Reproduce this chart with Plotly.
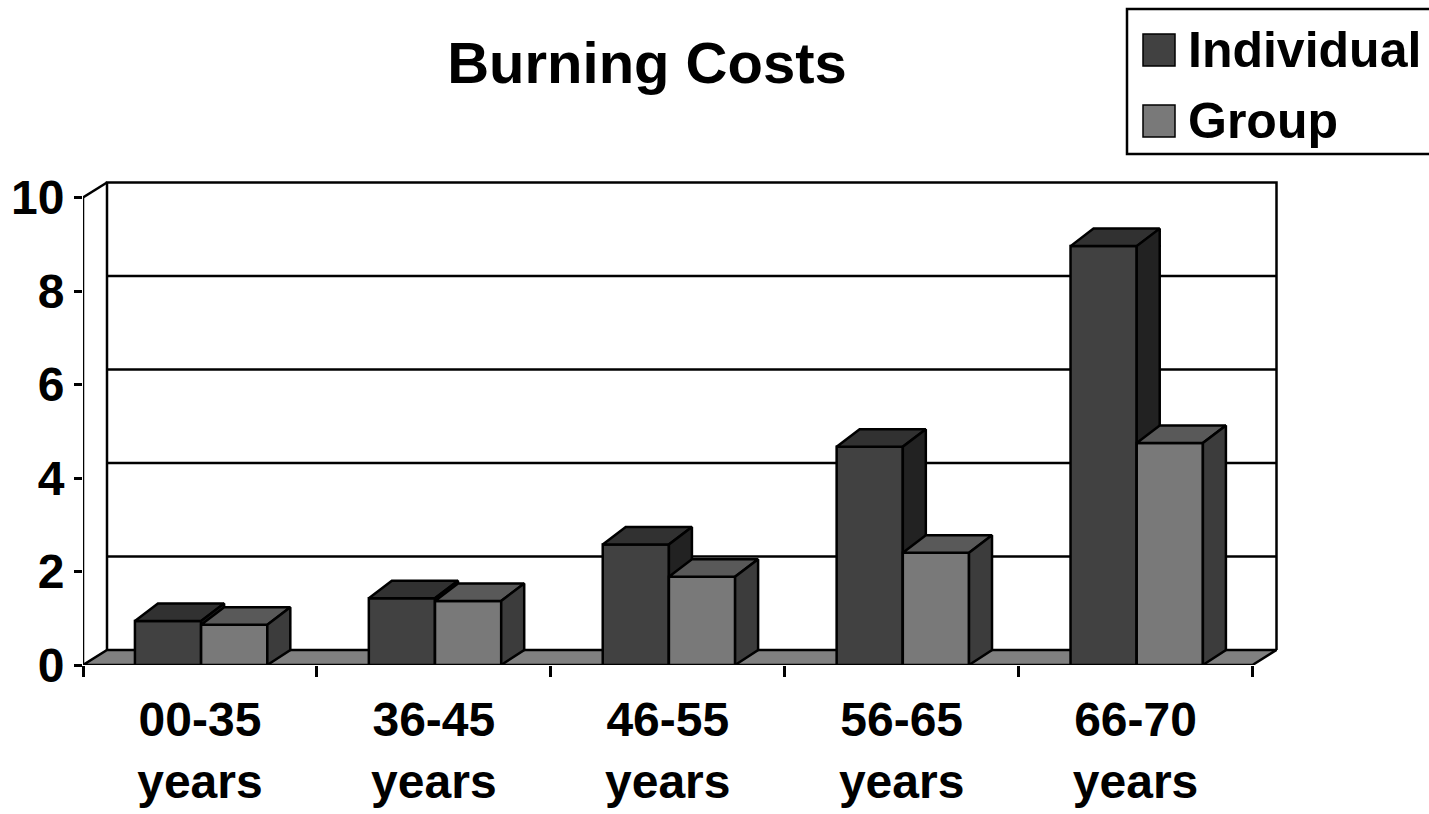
import plotly.graph_objects as go

# ---- data ----
categories = ["00-35<br>years", "36-45<br>years", "46-55<br>years", "56-65<br>years", "66-70<br>years"]
individual = [0.94, 1.43, 2.58, 4.67, 8.96]
group = [0.86, 1.37, 1.89, 2.40, 4.75]
series_names = ["Individual", "Group"]
y_ticks = [0, 2, 4, 6, 8, 10]
y_max = 10

# ---- page geometry ----
W, H = 1429, 814
ML, MR, MT, MB = 83, 149, 180, 149
PX_X = 233.9   # pixels per category
PX_Y = 46.75   # pixels per value unit
plot_w = W - ML - MR
plot_h = H - MT - MB
n = len(categories)
x_lo, x_hi = -0.5, n - 0.5
x_range = [x_lo, x_lo + plot_w / PX_X]
y_range = [0, plot_h / PX_Y]

# oblique depth of walls/floor and of the columns
WALL_DX, WALL_DY = 24 / PX_X, 15 / PX_Y
BAR_DX, BAR_DYT, BAR_DYB = 23 / PX_X, 17.5 / PX_Y, 15 / PX_Y
BAR_W = 0.283
BAR_SHIFT = 0.005

FONT = "Liberation Sans, Arial, sans-serif"
LW = 2.5

# face colours: (front, top, side)
face_colors = {
    "Individual": ("#414141", "#313131", "#222222"),
    "Group": ("#797979", "#595959", "#3c3c3c"),
}
floor_color = "#808080"

fig = go.Figure()


def poly_trace(xs, ys, fill, name=None, width=LW):
    return go.Scatter(
        x=xs, y=ys, mode="lines", fill="toself" if fill else None,
        fillcolor=fill, line=dict(color="black", width=width),
        hoverinfo="skip", showlegend=False, cliponaxis=False, name=name,
    )


def line_trace(xs, ys):
    return go.Scatter(x=xs, y=ys, mode="lines", line=dict(color="black", width=LW),
                      hoverinfo="skip", showlegend=False, cliponaxis=False)


# back wall gridlines and outline
gx, gy = [], []
for v in y_ticks[1:-1]:
    gx += [x_lo + WALL_DX, x_hi + WALL_DX, None]
    gy += [v + WALL_DY, v + WALL_DY, None]
fig.add_trace(line_trace(gx, gy))
fig.add_trace(line_trace(
    [x_lo + WALL_DX, x_lo + WALL_DX, x_hi + WALL_DX, x_hi + WALL_DX],
    [WALL_DY, y_max + WALL_DY, y_max + WALL_DY, WALL_DY]))
# side wall top edge and front value axis
fig.add_trace(line_trace([x_lo, x_lo + WALL_DX], [y_max, y_max + WALL_DY]))
fig.add_trace(line_trace([x_lo, x_lo], [0, y_max]))

# floor
fig.add_trace(poly_trace(
    [x_lo, x_hi, x_hi + WALL_DX, x_lo + WALL_DX, x_lo],
    [0, 0, WALL_DY, WALL_DY, 0], floor_color))

# columns
for s_idx, (name, values) in enumerate(zip(series_names, [individual, group])):
    front_c, top_c, side_c = face_colors[name]
    fx, fy, tx, ty, sx, sy = [], [], [], [], [], []
    for i, v in enumerate(values):
        x0 = i + BAR_SHIFT + (s_idx - 1) * BAR_W
        x1 = x0 + BAR_W
        fx += [x0, x1, x1, x0, x0, None]
        fy += [0, 0, v, v, 0, None]
        tx += [x0, x1, x1 + BAR_DX, x0 + BAR_DX, x0, None]
        ty += [v, v, v + BAR_DYT, v + BAR_DYT, v, None]
        sx += [x1, x1 + BAR_DX, x1 + BAR_DX, x1, x1, None]
        sy += [0, BAR_DYB, v + BAR_DYT, v, 0, None]
    fig.add_trace(poly_trace(fx, fy, front_c, name))
    fig.add_trace(poly_trace(tx, ty, top_c, name))
    fig.add_trace(poly_trace(sx, sy, side_c, name))


# ---- legend box (drawn in paper coordinates) ----
def px2paper_x(px):
    return (px - ML) / plot_w


def px2paper_y(py):
    return (H - MB - py) / plot_h


shapes = [dict(type="rect", xref="paper", yref="paper",
               x0=px2paper_x(1127), x1=px2paper_x(1445),
               y0=px2paper_y(154), y1=px2paper_y(9),
               line=dict(color="black", width=LW), fillcolor="white", layer="above")]
annotations = []
row_centers = [50, 121]
for name, yc in zip(series_names, row_centers):
    shapes.append(dict(type="rect", xref="paper", yref="paper",
                       x0=px2paper_x(1143), x1=px2paper_x(1175),
                       y0=px2paper_y(yc + 16), y1=px2paper_y(yc - 16),
                       line=dict(color="black", width=1.5),
                       fillcolor=face_colors[name][0], layer="above"))
    annotations.append(dict(text="<b>%s</b>" % name, xref="paper", yref="paper",
                            x=px2paper_x(1186), y=px2paper_y(yc),
                            xanchor="left", yanchor="middle", showarrow=False,
                            font=dict(family=FONT, size=50, color="black")))

fig.update_layout(
    width=W, height=H,
    margin=dict(l=ML, r=MR, t=MT, b=MB, pad=0),
    paper_bgcolor="white", plot_bgcolor="white",
    showlegend=False, hovermode=False,
    title=dict(text="<b>Burning Costs</b>", x=647 / W, xref="container", xanchor="center",
               y=1 - 63 / H, yref="container", yanchor="middle",
               font=dict(family=FONT, size=58, color="black"), automargin=False),
    xaxis=dict(range=x_range, showgrid=False, zeroline=False, showline=False,
               automargin=False,
               tickmode="array", tickvals=list(range(n)), ticktext=["<b>%s</b>" % c for c in categories],
               ticks="", ticklabelstandoff=22, tickfont=dict(family=FONT, size=48, color="black"),
               minor=dict(tickmode="array", tickvals=[x_lo + k for k in range(n + 1)],
                          ticks="outside", ticklen=11, tickwidth=LW, tickcolor="black"),
               fixedrange=True),
    yaxis=dict(range=y_range, showgrid=False, zeroline=False, showline=False,
               automargin=False,
               tickmode="array", tickvals=y_ticks, ticktext=["<b>%d</b>" % t for t in y_ticks],
               ticks="outside", ticklen=8, tickwidth=LW, tickcolor="black",
               tickfont=dict(family=FONT, size=48, color="black"), fixedrange=True),
    shapes=shapes, annotations=annotations,
)

fig.write_html("out.html")
